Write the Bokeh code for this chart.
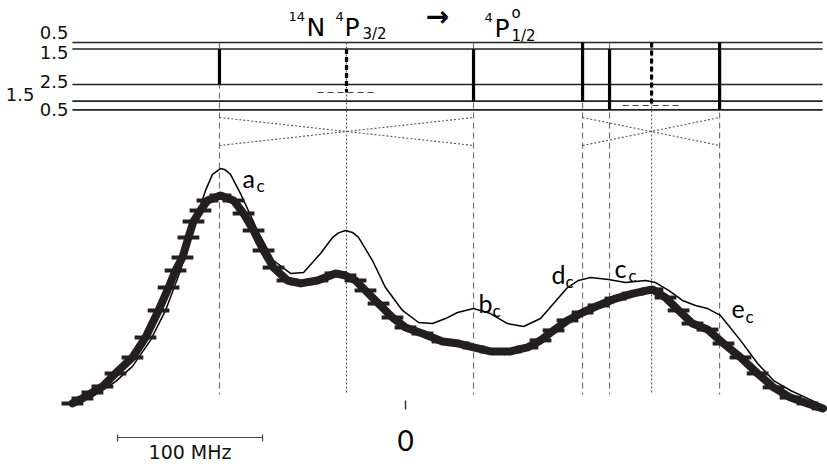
from bokeh.plotting import figure
from bokeh.models import Range1d
from bokeh.core.properties import value
from bokeh.embed import file_html
from bokeh.resources import INLINE

# ---- measured spectrum (frequency in MHz relative to 0, intensity normalised) ----
data_f = [-229.7, -222.8, -215.9, -209.0, -200.0, -188.3, -179.3, -170.3, -163.4, -158.6,
          -153.8, -149.7, -146.2, -141.4, -136.6, -127.6, -118.6, -111.7, -104.8, -97.9,
          -91.0, -81.4, -72.4, -60.7, -48.3, -41.4, -34.5, -27.6, -18.6, -9.0,
          0.0, 11.7, 25.5, 36.6, 46.9, 58.6, 72.4, 84.1, 93.1, 102.1,
          111.7, 122.1, 133.1, 144.8, 156.6, 170.3, 179.3, 188.3, 197.9, 208.3,
          219.3, 231.0, 242.8, 253.8, 265.5, 277.2, 287.6]
data_I = [0.010, 0.034, 0.063, 0.091, 0.154, 0.231, 0.327, 0.457, 0.567, 0.649,
          0.712, 0.808, 0.885, 0.938, 0.986, 1.010, 0.986, 0.923, 0.841, 0.745,
          0.663, 0.601, 0.587, 0.601, 0.635, 0.625, 0.601, 0.553, 0.490, 0.423,
          0.375, 0.346, 0.308, 0.298, 0.279, 0.260, 0.260, 0.279, 0.313, 0.361,
          0.409, 0.447, 0.481, 0.514, 0.538, 0.558, 0.519, 0.457, 0.394, 0.365,
          0.298, 0.231, 0.154, 0.087, 0.038, 0.010, -0.014]
err_half = 7.5  # MHz, half-width of horizontal error bars

# ---- calculated (fit) spectrum ----
fit_f = [-229.7, -215.9, -200.0, -188.3, -175.9, -165.5, -155.2, -146.2, -137.9, -133.1,
         -129.0, -127.6, -124.8, -120.7, -113.8, -102.1, -91.0, -79.3, -70.3, -58.6,
         -50.3, -46.2, -41.4, -36.6, -32.4, -22.8, -13.8, -2.1, 9.0, 18.6,
         27.6, 35.9, 46.9, 58.6, 70.3, 81.4, 93.1, 102.1, 111.7, 119.3,
         127.6, 140.0, 151.7, 165.5, 172.4, 181.4, 191.0, 200.0, 208.3, 217.2,
         231.0, 242.8, 253.8, 265.5, 277.2, 287.6]
fit_I = [0.005, 0.043, 0.115, 0.188, 0.313, 0.457, 0.649, 0.865, 1.034, 1.111,
         1.132, 1.139, 1.135, 1.111, 1.019, 0.841, 0.697, 0.635, 0.639, 0.731,
         0.808, 0.830, 0.841, 0.832, 0.808, 0.697, 0.567, 0.457, 0.399, 0.394,
         0.418, 0.447, 0.466, 0.442, 0.394, 0.380, 0.418, 0.490, 0.567, 0.601,
         0.615, 0.606, 0.591, 0.601, 0.591, 0.553, 0.505, 0.481, 0.466, 0.433,
         0.313, 0.202, 0.120, 0.072, 0.034, 0.000]

# ---- hyperfine component positions (MHz) ----
comp_f = [-128.3, -40.7, 46.9, 122.1, 140.7, 169.7, 216.6]
comp_style = ["dashed", "dotted", "dashed", "dashed", "dashed", "dotted", "dashed"]
comp_labels = ["a", "b", "d", "c", "e"]

# ---- level diagram ----
level_labels = ["0.5", "1.5", "2.5", "1.5", "0.5"]
level_y = [42, 48.5, 84, 100.7, 109.3]
bar_top = [48.5, 48.5, 48.5, 42, 48.5, 42, 42]
bar_bot = [84, 92, 100.7, 100.7, 109.3, 105, 109.3]

scale_f = [-198.6, -98.6]
scale_label = "100 MHz"

FONT = value("DejaVu Sans")
LFONT = value("Lato")
INK = "#231f20"

p = figure(width=827, height=464, output_backend="svg", toolbar_location=None,
           x_range=Range1d(-279.3, 291.0), y_range=Range1d(464, 0),
           x_axis_type=None, y_axis_type=None, min_border=0,
           outline_line_color=None, background_fill_color="white",
           border_fill_color="white")
p.min_border_left = p.min_border_right = p.min_border_top = p.min_border_bottom = 0
p.grid.visible = False
p.extra_y_ranges = {"sig": Range1d(-0.2837, 1.9471)}
p.extra_x_ranges = {"px": Range1d(0, 827)}

# level lines
xl0, xl1 = data_f[0], data_f[-1]
p.segment(x0=[xl0] * 5, x1=[xl1] * 5, y0=level_y, y1=level_y, line_color="#222222", line_width=1.7)
# level labels
p.text(x=[68, 68, 68, 68], y=[level_y[0] - 10, level_y[1] + 3, level_y[2] - 3.5, level_y[4] - 0.5],
       text=[level_labels[0], level_labels[1], level_labels[2], level_labels[4]],
       x_range_name="px", text_font=FONT, text_font_size="18px", text_align="right",
       text_baseline="middle", text_color="#111111")
p.text(x=[34], y=[level_y[3] - 7], text=[level_labels[3]], x_range_name="px", text_font=FONT,
       text_font_size="18px", text_align="right", text_baseline="middle", text_color="#111111")

# guide lines
dash_f = [f for f, s in zip(comp_f, comp_style) if s == "dashed"]
dot_f = [f for f, s in zip(comp_f, comp_style) if s == "dotted"]
p.segment(x0=dash_f, x1=dash_f, y0=[level_y[0]] * len(dash_f), y1=[394] * len(dash_f),
          line_color="#6a6a6a", line_width=1.1, line_dash="6 4")
p.segment(x0=dot_f, x1=dot_f, y0=[level_y[0]] * len(dot_f), y1=[394] * len(dot_f),
          line_color="#555555", line_width=1.1, line_dash="2 2")

# thick transition bars
sol = [i for i, s in enumerate(comp_style) if s == "dashed"]
dot = [i for i, s in enumerate(comp_style) if s == "dotted"]
p.segment(x0=[comp_f[i] for i in sol], x1=[comp_f[i] for i in sol],
          y0=[bar_top[i] for i in sol], y1=[bar_bot[i] for i in sol],
          line_color="black", line_width=3.2)
p.segment(x0=[comp_f[i] for i in dot], x1=[comp_f[i] for i in dot],
          y0=[bar_top[i] for i in dot], y1=[bar_bot[i] for i in dot],
          line_color="black", line_width=3.2, line_dash="5 3")
# short horizontal dashed marks at the lower ends of the dashed bars
p.segment(x0=[comp_f[i] - 20 for i in dot], x1=[comp_f[i] + 20 for i in dot],
          y0=[bar_bot[i] for i in dot], y1=[bar_bot[i] for i in dot],
          line_color="#444444", line_width=1.1, line_dash="6 4")

# crossing dotted lines
xa = [comp_f[0], comp_f[0], comp_f[3], comp_f[3]]
xb = [comp_f[2], comp_f[2], comp_f[6], comp_f[6]]
p.segment(x0=xa, x1=xb, y0=[117, 145, 117, 145], y1=[145, 117, 145, 117],
          line_color="#555555", line_width=1.1, line_dash="2 2")

# fit curve
p.line(fit_f, fit_I, y_range_name="sig", line_color="black", line_width=1.5, line_join="round")
# data curve + error bars
p.line(data_f, data_I, y_range_name="sig", line_color=INK, line_width=8,
       line_join="round", line_cap="round")
p.segment(x0=[f - err_half for f in data_f], x1=[f + err_half for f in data_f],
          y0=data_I, y1=data_I, y_range_name="sig", line_color=INK, line_width=4)

# component labels
lab_x = [242, 478, 551, 614, 731]
lab_y = [177, 302, 273, 267, 308]
p.text(x=lab_x, y=lab_y, text=comp_labels, x_range_name="px", text_font=LFONT,
       text_font_size="25px", text_baseline="alphabetic", text_color="black")
p.text(x=[x + 14 for x in lab_x], y=[y + 8 for y in lab_y], text=["c"] * 5, x_range_name="px",
       text_font=LFONT, text_font_size="17px", text_baseline="alphabetic", text_color="black")

# title
p.text(x=[288, 335, 484], y=[16, 16, 17], text=["14", "4", "4"], x_range_name="px",
       text_font=FONT, text_font_size="13px", text_baseline="alphabetic")
p.text(x=[306, 344, 494], y=[27, 27, 28], text=["N", "P", "P"], x_range_name="px",
       text_font=FONT, text_font_size="25px", text_baseline="alphabetic")
p.text(x=[362, 511], y=[33, 35], text=["3/2", "1/2"], x_range_name="px",
       text_font=FONT, text_font_size="15px", text_baseline="alphabetic")
p.text(x=[511], y=[12], text=["o"], x_range_name="px",
       text_font=FONT, text_font_size="15px", text_baseline="alphabetic")
p.text(x=[437], y=[16], text=["\u2192"], x_range_name="px", text_font=FONT,
       text_font_size="28px", text_align="center", text_baseline="middle", text_font_style="bold")

# zero tick and label
p.segment(x0=[0], x1=[0], y0=[400], y1=[409], line_color="#333333", line_width=1.5)
p.text(x=[0], y=[440], text=["0"], text_font=LFONT, text_font_size="28px",
       text_align="center", text_baseline="middle")

# scale bar
p.segment(x0=[scale_f[0]], x1=[scale_f[1]], y0=[437], y1=[437], line_color="#444444", line_width=1.2)
p.segment(x0=scale_f, x1=scale_f, y0=[434, 434], y1=[441, 441], line_color="#444444", line_width=1.2)
p.text(x=[(scale_f[0] + scale_f[1]) / 2], y=[451], text=[scale_label], text_font=FONT,
       text_font_size="19px", text_align="center", text_baseline="middle", text_color="#111111")

open("out.html", "w").write(file_html(p, INLINE))
